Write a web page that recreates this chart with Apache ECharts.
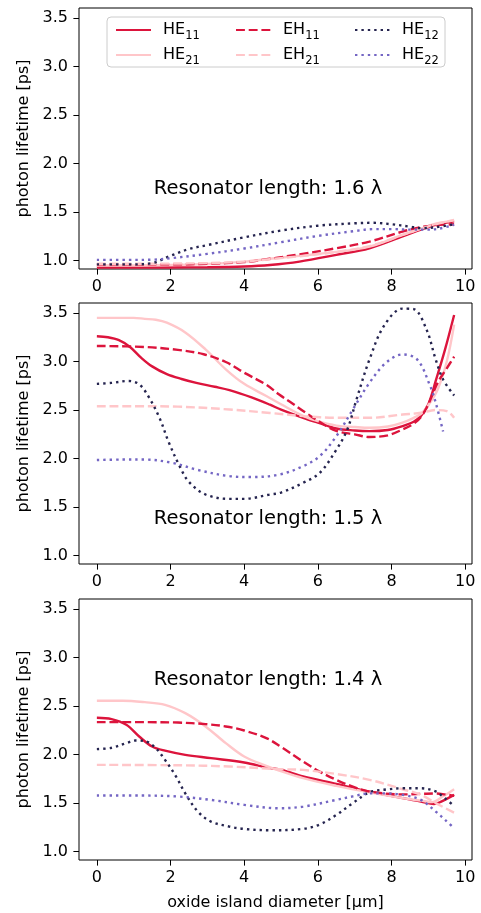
<!DOCTYPE html>
<html>
<head>
<meta charset="utf-8">
<script src="https://cdn.jsdelivr.net/npm/echarts@6/dist/echarts.min.js"></script>
<style>html,body{margin:0;padding:0;background:#fff}#c{width:481px;height:913px}</style>
</head>
<body>
<div id="c"></div>
<script>
// ---------- data ----------
const modeNames = ['HE11', 'HE21', 'EH11', 'EH21', 'HE12', 'HE22'];
const panelTitles = ['Resonator length: 1.6 λ', 'Resonator length: 1.5 λ', 'Resonator length: 1.4 λ'];
const xTicks = [0, 2, 4, 6, 8, 10];
const yTicks = [1.0, 1.5, 2.0, 2.5, 3.0, 3.5];

// Resonator length 1.6 λ
const p16_HE11 = [[0,0.93],[1,0.93],[2,0.93],[3,0.932],[4,0.94],[4.7,0.955],[5.5,0.99],[6.5,1.06],[7.4,1.128],[8.3,1.25],[8.8,1.32],[9.2,1.37],[9.7,1.405]];
const p16_HE21 = [[0,0.95],[1,0.95],[2,0.955],[3,0.965],[4,0.99],[4.7,1.02],[5.5,1.05],[6.5,1.09],[7.4,1.145],[8.3,1.265],[8.8,1.33],[9.2,1.38],[9.7,1.415]];
const p16_EH11 = [[0,0.962],[1,0.962],[2,0.962],[3,0.968],[4,0.985],[4.7,1.02],[5.5,1.065],[6.5,1.128],[7.4,1.196],[8.3,1.3],[8.8,1.345],[9.2,1.365],[9.7,1.375]];
const p16_EH21 = [[0,0.968],[1,0.968],[2,0.97],[3,0.975],[4,0.99],[4.7,1.015],[5.5,1.045],[6.5,1.09],[7.4,1.15],[8.3,1.265],[8.8,1.33],[9.2,1.375],[9.7,1.42]];
const p16_HE12 = [[0,0.962],[1,0.962],[1.5,0.975],[2,1.05],[2.5,1.12],[3,1.16],[4,1.24],[5,1.31],[6,1.36],[7,1.385],[7.5,1.39],[8,1.375],[8.5,1.35],[8.8,1.335],[9.2,1.345],[9.7,1.375]];
const p16_HE22 = [[0,1.008],[1,1.008],[1.5,1.01],[2,1.025],[3,1.07],[4,1.125],[5,1.19],[6,1.255],[7,1.305],[7.5,1.325],[8,1.325],[8.5,1.32],[9,1.32],[9.3,1.33],[9.7,1.37]];

// Resonator length 1.5 λ
const p15_HE11 = [[0,3.26],[0.3,3.25],[0.6,3.22],[0.9,3.15],[1.2,3.04],[1.5,2.95],[1.9,2.87],[2.3,2.82],[2.7,2.78],[3.2,2.74],[3.6,2.705],[4.2,2.63],[4.7,2.555],[5.0,2.505],[5.6,2.42],[6.0,2.37],[6.5,2.31],[7.0,2.29],[7.4,2.283],[7.9,2.295],[8.3,2.335],[8.6,2.38],[8.8,2.44],[9.0,2.56],[9.2,2.8],[9.45,3.12],[9.7,3.48]];
const p15_HE21 = [[0,3.45],[0.5,3.45],[1.0,3.45],[1.3,3.44],[1.6,3.43],[1.9,3.40],[2.4,3.3],[2.95,3.125],[3.5,2.92],[4.0,2.77],[4.6,2.645],[5.0,2.56],[5.6,2.44],[6.0,2.385],[6.5,2.34],[7.0,2.325],[7.4,2.317],[7.9,2.33],[8.3,2.37],[8.6,2.42],[8.8,2.46],[9.0,2.55],[9.25,2.71],[9.5,3.0],[9.7,3.38]];
const p15_EH11 = [[0,3.16],[1.3,3.15],[2.2,3.12],[2.9,3.075],[3.5,2.995],[4.0,2.885],[4.6,2.76],[4.95,2.66],[5.3,2.57],[5.6,2.49],[6.0,2.39],[6.5,2.285],[7.0,2.25],[7.4,2.222],[7.9,2.24],[8.3,2.30],[8.6,2.36],[8.8,2.43],[9.0,2.56],[9.25,2.78],[9.5,2.93],[9.7,3.05]];
const p15_EH21 = [[0,2.54],[1,2.54],[2.2,2.535],[3.6,2.506],[4.7,2.47],[5.6,2.438],[6.5,2.42],[7.4,2.42],[8.3,2.454],[8.8,2.472],[9.2,2.5],[9.5,2.49],[9.7,2.42]];
const p15_HE12 = [[0,2.77],[0.4,2.78],[0.85,2.80],[1.15,2.765],[1.4,2.64],[1.7,2.42],[1.95,2.17],[2.25,1.92],[2.5,1.76],[2.95,1.63],[3.6,1.585],[4.0,1.585],[4.7,1.63],[5.0,1.65],[5.6,1.75],[6.05,1.853],[6.5,2.09],[6.8,2.30],[7.05,2.61],[7.4,3.02],[7.8,3.37],[8.3,3.545],[8.6,3.54],[8.95,3.33],[9.2,3.02],[9.4,2.815],[9.7,2.65]];
const p15_HE22 = [[0,1.985],[0.7,1.99],[1.3,1.99],[2.05,1.956],[2.7,1.887],[3.6,1.819],[4.2,1.81],[4.95,1.835],[5.6,1.922],[6.05,2.025],[6.5,2.23],[6.95,2.506],[7.4,2.78],[7.85,2.987],[8.3,3.073],[8.7,3.02],[9.05,2.747],[9.2,2.575],[9.4,2.28]];

// Resonator length 1.4 λ
const p14_HE11 = [[0,2.38],[0.4,2.366],[0.8,2.307],[1.15,2.186],[1.5,2.083],[1.85,2.04],[2.4,1.997],[3.1,1.963],[4.0,1.918],[4.7,1.86],[5.0,1.845],[5.6,1.774],[6.5,1.698],[7.4,1.619],[8.3,1.551],[8.8,1.516],[9.15,1.49],[9.35,1.516],[9.7,1.585]];
const p14_HE21 = [[0,2.555],[0.7,2.555],[1.3,2.54],[1.85,2.513],[2.4,2.427],[2.95,2.29],[3.5,2.118],[4.0,1.98],[4.6,1.884],[4.95,1.835],[5.6,1.757],[6.5,1.678],[7.4,1.61],[8.3,1.551],[8.8,1.526],[9.1,1.51],[9.4,1.57],[9.7,1.643]];
const p14_EH11 = [[0,2.334],[1.3,2.334],[2.2,2.33],[2.95,2.314],[3.5,2.29],[4.0,2.248],[4.6,2.17],[5.0,2.08],[5.6,1.928],[6.05,1.825],[6.5,1.74],[6.95,1.67],[7.4,1.619],[8.3,1.59],[8.8,1.595],[9.2,1.6],[9.45,1.59],[9.7,1.575]];
const p14_EH21 = [[0,1.894],[2.2,1.89],[3.6,1.877],[4.95,1.85],[5.6,1.842],[6.5,1.80],[7.4,1.74],[8.3,1.643],[8.8,1.585],[9.2,1.5],[9.7,1.402]];
const p14_HE12 = [[0,2.056],[0.4,2.07],[0.8,2.118],[1.05,2.145],[1.3,2.14],[1.6,2.066],[1.85,1.946],[2.15,1.774],[2.4,1.60],[2.75,1.41],[3.1,1.31],[3.6,1.258],[4.0,1.234],[4.7,1.22],[5.6,1.235],[6.05,1.28],[6.5,1.378],[6.95,1.5],[7.4,1.612],[7.85,1.64],[8.3,1.653],[8.8,1.653],[9.2,1.62],[9.45,1.55],[9.7,1.47]];
const p14_HE22 = [[0,1.578],[1.2,1.578],[2.2,1.568],[3.1,1.533],[4.0,1.482],[4.95,1.447],[5.6,1.464],[6.5,1.533],[6.95,1.57],[7.4,1.6],[7.85,1.6],[8.3,1.585],[8.8,1.533],[9.2,1.413],[9.45,1.33],[9.7,1.24]];

const panels = [
  {HE11: p16_HE11, HE21: p16_HE21, EH11: p16_EH11, EH21: p16_EH21, HE12: p16_HE12, HE22: p16_HE22},
  {HE11: p15_HE11, HE21: p15_HE21, EH11: p15_EH11, EH21: p15_EH21, HE12: p15_HE12, HE22: p15_HE22},
  {HE11: p14_HE11, HE21: p14_HE21, EH11: p14_EH11, EH21: p14_EH21, HE12: p14_HE12, HE22: p14_HE22}
];

// ---------- styles ----------
const FONT = 'DejaVu Sans';
const LW = 2.4;
const DASH = [8.9, 3.8];
const DOT = [2.4, 4];
const modeStyle = {
  HE11: {color: '#dc143c', type: 'solid'},
  HE21: {color: '#ffc6c9', type: 'solid'},
  EH11: {color: '#dc143c', type: DASH},
  EH21: {color: '#ffc6c9', type: DASH},
  HE12: {color: '#25244f', type: DOT},
  HE22: {color: '#7466c4', type: DOT}
};

const gridTops = [8, 303, 599];
const gridH = 261;
const yMin = 0.914, yMax = 3.603;
const xMin = -0.485, xMax = 10.185;

const grids = [], xAxes = [], yAxes = [], series = [];
gridTops.forEach((top, i) => {
  grids.push({left: 79, top: top, width: 393, height: gridH, show: true, borderColor: '#000', borderWidth: 1, backgroundColor: 'transparent'});
  xAxes.push({
    type: 'value', gridIndex: i, min: xMin, max: xMax, position: 'bottom',
    splitLine: {show: false}, axisLine: {show: false, onZero: false},
    axisTick: {show: true, length: 5.6, lineStyle: {color: '#000', width: 1}, customValues: xTicks},
    axisLabel: {show: true, customValues: xTicks, margin: 10, fontFamily: FONT, fontSize: 16, color: '#000'},
    name: i === 2 ? 'oxide island diameter [μm]' : '',
    nameLocation: 'middle', nameGap: 35,
    nameTextStyle: {fontFamily: FONT, fontSize: 16, color: '#000'}
  });
  yAxes.push({
    type: 'value', gridIndex: i, min: yMin, max: yMax, position: 'left',
    splitLine: {show: false}, axisLine: {show: false, onZero: false},
    axisTick: {show: true, length: 5.6, lineStyle: {color: '#000', width: 1}, customValues: yTicks},
    axisLabel: {show: true, customValues: yTicks, margin: 11, fontFamily: FONT, fontSize: 16, color: '#000', formatter: v => v.toFixed(1)},
    name: 'photon lifetime [ps]', nameLocation: 'middle', nameGap: 45,
    nameTextStyle: {fontFamily: FONT, fontSize: 16, color: '#000'}
  });
  modeNames.forEach(n => {
    const st = modeStyle[n];
    series.push({
      type: 'line', name: n, xAxisIndex: i, yAxisIndex: i,
      data: panels[i][n], smooth: 0.35, symbol: 'none', showSymbol: false,
      lineStyle: {color: st.color, width: LW, type: st.type, cap: 'butt'},
      itemStyle: {color: st.color},
      emphasis: {disabled: true}, animation: false
    });
  });
});

function legendFmt(name) { return name.slice(0, 2) + '{s|' + name.slice(2) + '}'; }
const legendText = {
  fontFamily: FONT, fontSize: 16, color: '#000', padding: [0, 0, 0, 7],
  rich: {s: {fontFamily: FONT, fontSize: 11.5, color: '#000', verticalAlign: 'bottom', padding: [0, 0, -4, 0]}}
};
const legendCols = [['HE11', 'HE21'], ['EH11', 'EH21'], ['HE12', 'HE22']];
const legendLefts = [115, 235, 354];
const legends = legendCols.map((d, j) => ({
  data: d, orient: 'vertical', left: legendLefts[j], top: 22, padding: 0,
  itemWidth: 35, itemHeight: 14, itemGap: 5, formatter: legendFmt,
  itemStyle: {color: 'rgba(0,0,0,0)', opacity: 0, borderWidth: 0},
  textStyle: legendText, selectedMode: false, z: 6
}));

const graphics = [
  {type: 'rect', left: 106.5, top: 16.5, shape: {width: 338, height: 50, r: 4}, style: {fill: 'rgba(255,255,255,0.8)', stroke: '#cccccc', lineWidth: 1}, z: 5}
];
const titleY = [189, 519, 680];
panelTitles.forEach((t, i) => {
  graphics.push({type: 'text', x: 268, y: titleY[i], style: {text: t, font: '19.5px "DejaVu Sans"', fill: '#000', textAlign: 'center', textVerticalAlign: 'middle'}, z: 6});
});

const chart = echarts.init(document.getElementById('c'), null, {renderer: 'canvas'});
chart.setOption({
  animation: false,
  backgroundColor: '#fff',
  grid: grids, xAxis: xAxes, yAxis: yAxes, series: series,
  legend: legends, graphic: graphics
});
</script>
</body>
</html>
